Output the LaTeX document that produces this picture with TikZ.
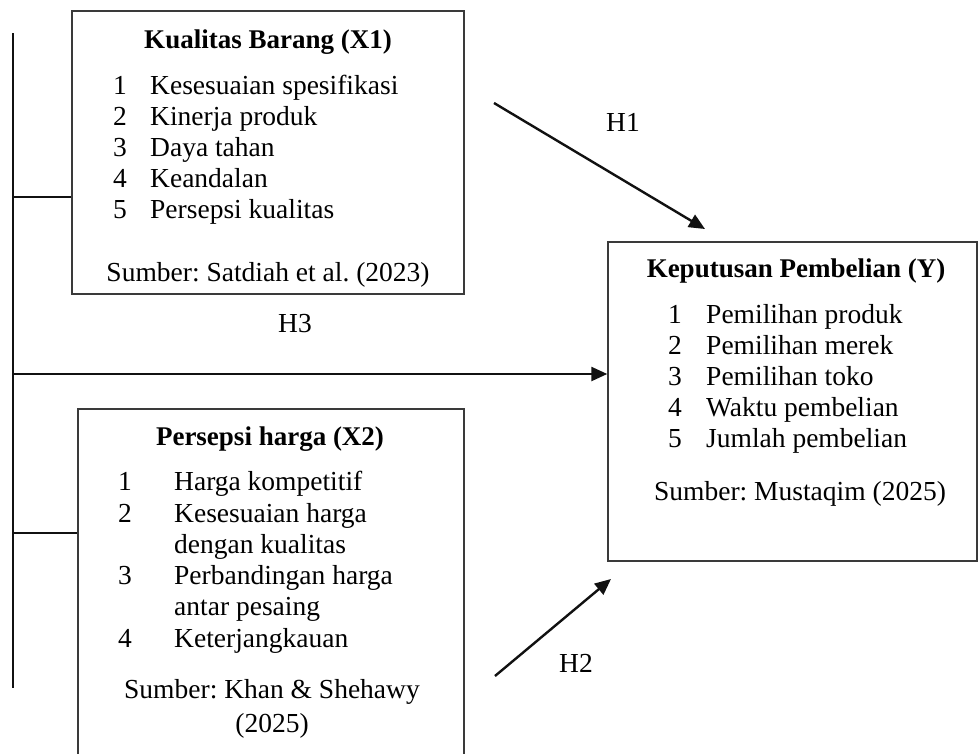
\documentclass[tikz,border=0pt]{standalone}
\usepackage{fontspec}
\setmainfont{Liberation Serif}
\usetikzlibrary{arrows.meta,positioning}
\definecolor{garisKotak}{HTML}{3A3A3A}
\definecolor{hitam}{HTML}{111111}
\frenchspacing

\begin{document}
\begin{tikzpicture}[x=1pt,y=-1pt,
  kotak/.style={draw=garisKotak,line width=1.4pt,inner sep=0pt},
  garis/.style={hitam,line width=2.4pt},
  panah/.style={hitam,line width=2.4pt,-{Triangle[length=16pt,width=14pt]}},
  isi/.style={anchor=base west,inner sep=0pt,font=\fontsize{27.5}{31}\selectfont},
  judul/.style={anchor=base,inner sep=0pt,font=\fontsize{27}{31}\selectfont\bfseries},
  sumber/.style={anchor=base,inner sep=0pt,font=\fontsize{27.5}{31}\selectfont}]
\useasboundingbox (0,0) rectangle (979,753);
% kotak variabel
\node[kotak,minimum width=392pt,minimum height=283pt] (x1) at (268,152.5) {};
\node[kotak,minimum width=386pt,minimum height=400pt] (x2) at (271,609) {};
\node[kotak,minimum width=369pt,minimum height=319pt] (y) at (792.5,401.5) {};
% X1
\node[judul] (x1judul) at (268,48) {Kualitas Barang (X1)};
\foreach \n/\t [count=\i] in {1/Kesesuaian spesifikasi,2/Kinerja produk,3/Daya tahan,4/Keandalan,5/Persepsi kualitas}{
  \node[isi] (x1no\i) at (113,{94+31*(\i-1)}) {\n};
  \node[isi] (x1isi\i) at (150,{94+31*(\i-1)}) {\t};
}
\node[sumber] (x1sumber) at (268,281) {Sumber: Satdiah et al. (2023)};
% X2
\node[judul] (x2judul) at (270,445) {Persepsi harga (X2)};
\node[isi] (x2no1) at (118,490) {1};
\node[isi] (x2isi1) at (174,490) {Harga kompetitif};
\node[isi] (x2no2) at (118,522) {2};
\node[isi] (x2isi2) at (174,522) {Kesesuaian harga};
\node[isi] (x2isi2b) at (174,553) {dengan kualitas};
\node[isi] (x2no3) at (118,584) {3};
\node[isi] (x2isi3) at (174,584) {Perbandingan harga};
\node[isi] (x2isi3b) at (174,615) {antar pesaing};
\node[isi] (x2no4) at (118,647) {4};
\node[isi] (x2isi4) at (174,647) {Keterjangkauan};
\node[sumber] (x2sumber) at (272,698) {Sumber: Khan \& Shehawy};
\node[sumber] (x2tahun) at (272,732) {(2025)};
% Y
\node[judul] (yjudul) at (796,277) {Keputusan Pembelian (Y)};
\foreach \n/\t [count=\i] in {1/Pemilihan produk,2/Pemilihan merek,3/Pemilihan toko,4/Waktu pembelian,5/Jumlah pembelian}{
  \node[isi] (yno\i) at (668,{323+31*(\i-1)}) {\n};
  \node[isi] (yisi\i) at (706,{323+31*(\i-1)}) {\t};
}
\node[sumber] (ysumber) at (800,500) {Sumber: Mustaqim (2025)};
% garis penghubung
\coordinate (atas) at (13,33);
\coordinate (bawah) at (13,688);
\draw[garis] (atas) -- (bawah);
\draw[garis] (13,197) coordinate (c1) -- (c1 -| x1.west);
\draw[garis] (13,533) coordinate (c2) -- (c2 -| x2.west);
\draw[panah] (13,374) coordinate (c3) -- (c3 -| y.west);
\coordinate (h1a) at (494,103);
\coordinate (h1b) at (705,229);
\draw[panah] (h1a) -- (h1b);
\coordinate (h2a) at (495,676);
\coordinate (h2b) at (611,579);
\draw[panah] (h2a) -- (h2b);
\node[sumber] (h1) at (623,131) {H1};
\node[sumber] (h2) at (576,672) {H2};
\node[sumber] (h3) at (295,332) {H3};
\end{tikzpicture}
\end{document}
